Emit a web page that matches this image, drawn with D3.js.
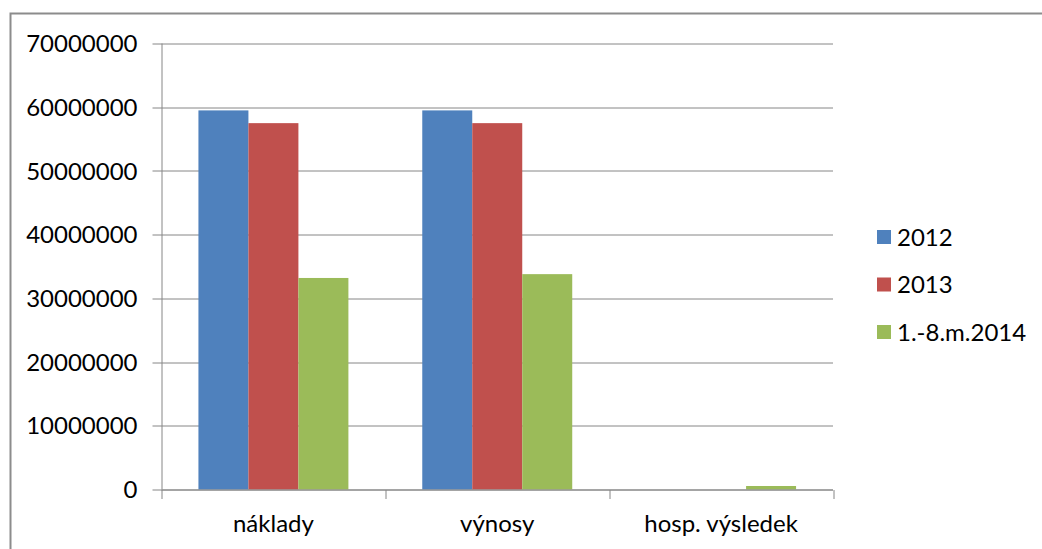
<!DOCTYPE html>
<html lang="cs">
<head>
<meta charset="utf-8">
<title>náklady / výnosy</title>
<script src="https://d3js.org/d3.v7.min.js"></script>
<style>
  body { margin: 0; background: #fff; }
  svg { display: block; font-family: Lato, "Open Sans", sans-serif; }
</style>
</head>
<body>
<svg width="1042" height="549"></svg>
<script>

// data
var categories = ["náklady", "výnosy", "hosp. výsledek"];
var series = ["2012", "2013", "1.-8.m.2014"];
var values2012 = [59500000, 59500000, 0];
var values2013 = [57500000, 57500000, 0];
var values2014 = [33200000, 33800000, 550000];
var yTicks = [0, 10000000, 20000000, 30000000, 40000000, 50000000, 60000000, 70000000];
var colors = ["#4F81BD", "#C0504D", "#9BBB59"];

var seriesValues = [values2012, values2013, values2014];

var svg = d3.select("svg"),
    margin = {top: 43.5, left: 161.5, right: 209, bottom: 59.5},
    w = +svg.attr("width") - margin.left - margin.right,
    h = +svg.attr("height") - margin.top - margin.bottom;

// outer frame (only top and left visible)
svg.append("path")
    .attr("d", "M10.5,549 V13.5 H1042")
    .attr("fill", "none")
    .attr("stroke", "#8c8c8c")
    .attr("stroke-width", 2);

var g = svg.append("g")
    .attr("transform", "translate(" + margin.left + "," + margin.top + ")");

var x0 = d3.scaleBand().domain(categories).range([0, w]).padding(0);
var x1 = d3.scaleBand().domain(series)
    .range([x0.bandwidth() * 0.165, x0.bandwidth() * 0.835]);
var y = d3.scaleLinear().domain([0, 70000000]).range([h, 0]);

// gridlines with left tick marks
g.append("g")
    .selectAll("line")
    .data(yTicks)
    .enter().append("line")
      .attr("x1", -9)
      .attr("x2", w)
      .attr("y1", function(d) { return Math.round(y(d)) + 0.5; })
      .attr("y2", function(d) { return Math.round(y(d)) + 0.5; })
      .attr("stroke", "#868686")
      .attr("stroke-width", 1);

// y labels
g.append("g")
    .selectAll("text")
    .data(yTicks)
    .enter().append("text")
      .attr("x", -24)
      .attr("y", function(d) { return y(d); })
      .attr("dy", "0.36em")
      .attr("text-anchor", "end")
      .attr("font-size", "24px")
      .attr("fill", "#000")
      .text(function(d) { return d; });

// bars
var groups = g.selectAll(".cat")
    .data(categories)
    .enter().append("g")
      .attr("class", "cat")
      .attr("transform", function(d) { return "translate(" + x0(d) + ",0)"; });

groups.selectAll("rect")
    .data(function(d, i) {
      return series.map(function(s, j) { return {s: s, v: seriesValues[j][i], c: colors[j]}; });
    })
    .enter().append("rect")
      .attr("x", function(d) { return x1(d.s); })
      .attr("width", x1.bandwidth())
      .attr("y", function(d) { return y(d.v); })
      .attr("height", function(d) { return h - y(d.v); })
      .attr("fill", function(d) { return d.c; });

// y axis line
g.append("line")
    .attr("x1", 0.5).attr("x2", 0.5)
    .attr("y1", 0).attr("y2", h)
    .attr("stroke", "#868686");

// x axis
var xAxis = g.append("g")
    .attr("transform", "translate(0," + (Math.round(h) + 0.5) + ")");
xAxis.append("line")
    .attr("x1", 0).attr("x2", w)
    .attr("stroke", "#868686");
xAxis.selectAll(".tk")
    .data(d3.range(categories.length + 1))
    .enter().append("line")
      .attr("x1", function(d) { return Math.round(d * x0.bandwidth()) + 0.5; })
      .attr("x2", function(d) { return Math.round(d * x0.bandwidth()) + 0.5; })
      .attr("y1", 0).attr("y2", 9)
      .attr("stroke", "#868686");
xAxis.selectAll("text")
    .data(categories)
    .enter().append("text")
      .attr("x", function(d) { return x0(d) + x0.bandwidth() / 2; })
      .attr("y", 42)
      .attr("text-anchor", "middle")
      .attr("font-size", "24px")
      .attr("fill", "#000")
      .text(function(d) { return d; });

// legend
var legend = svg.append("g")
    .attr("transform", "translate(877,237)");
var li = legend.selectAll("g")
    .data(series)
    .enter().append("g")
      .attr("transform", function(d, i) { return "translate(0," + (i * 47.5) + ")"; });
li.append("rect")
    .attr("x", 0).attr("y", -7)
    .attr("width", 14).attr("height", 14)
    .attr("fill", function(d, i) { return colors[i]; });
li.append("text")
    .attr("x", 20)
    .attr("dy", "0.36em")
    .attr("font-size", "24px")
    .attr("fill", "#000")
    .text(function(d) { return d; });

</script>
</body>
</html>
